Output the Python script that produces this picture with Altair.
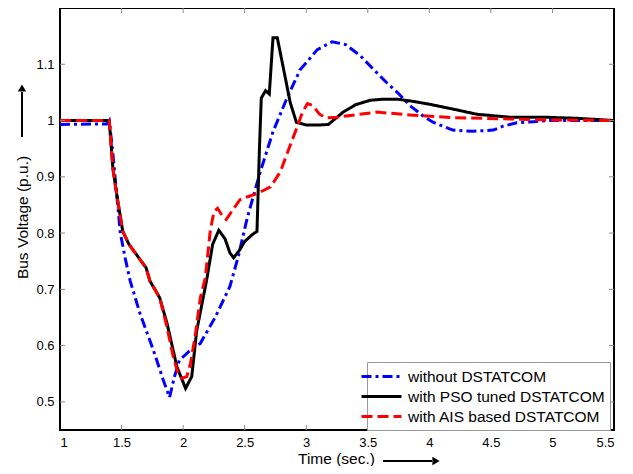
import altair as alt
import pandas as pd

series_names = ["without DSTATCOM", "with PSO tuned DSTATCOM", "with AIS based DSTATCOM"]
series_colors = ["#0000ff", "#000000", "#ff0000"]
series_dashes = [[10, 4, 3, 4], [1, 0], [11, 5]]

t_without = [1.0, 1.38, 1.40, 1.43, 1.46, 1.49, 1.53, 1.57, 1.65, 1.76, 1.84, 1.89, 1.93, 1.97,
             2.05, 2.14, 2.26, 2.38, 2.45, 2.52, 2.62, 2.73, 2.84, 2.95, 3.09, 3.21, 3.32, 3.44,
             3.55, 3.65, 3.75, 3.84, 3.95, 4.03, 4.19, 4.35, 4.52, 4.6, 4.71, 4.85, 4.98, 5.5]
v_without = [0.993, 0.994, 1.0, 0.94, 0.87, 0.80, 0.755, 0.715, 0.657, 0.591, 0.538, 0.508, 0.545,
             0.574, 0.59, 0.604, 0.65, 0.705, 0.76, 0.826, 0.904, 0.98, 1.038, 1.09, 1.126, 1.14,
             1.135, 1.115, 1.09, 1.068, 1.048, 1.027, 1.008, 0.997, 0.983, 0.981, 0.983, 0.99,
             0.996, 0.998, 1.0, 1.0]

t_pso = [1.0, 1.40, 1.43, 1.47, 1.51, 1.56, 1.62, 1.70, 1.73, 1.81, 1.87, 1.95, 2.02, 2.07, 2.11,
         2.19, 2.24, 2.29, 2.34, 2.38, 2.41, 2.46, 2.5, 2.56, 2.6, 2.62, 2.635, 2.67, 2.70, 2.73,
         2.765, 2.81, 2.87, 2.92, 3.0, 3.1, 3.18, 3.3, 3.4, 3.52, 3.63, 3.74, 3.87, 4.0, 4.2,
         4.39, 4.65, 4.92, 5.2, 5.5]
v_pso = [1.0, 1.0, 0.914, 0.856, 0.803, 0.78, 0.762, 0.738, 0.715, 0.685, 0.639, 0.562, 0.524,
         0.545, 0.626, 0.715, 0.78, 0.805, 0.79, 0.765, 0.756, 0.77, 0.785, 0.797, 0.803, 0.95,
         1.04, 1.053, 1.047, 1.147, 1.147, 1.098, 1.032, 0.997, 0.992, 0.992, 0.993, 1.015, 1.028,
         1.036, 1.038, 1.038, 1.034, 1.029, 1.02, 1.011, 1.006, 1.006, 1.004, 1.0]

t_ais = [1.0, 1.40, 1.43, 1.47, 1.51, 1.56, 1.62, 1.70, 1.73, 1.81, 1.87, 1.92, 1.96, 1.99, 2.03,
         2.06, 2.10, 2.14, 2.18, 2.22, 2.25, 2.28, 2.32, 2.35, 2.40, 2.46, 2.53, 2.6, 2.71, 2.79,
         2.87, 2.92, 2.97, 3.01, 3.05, 3.11, 3.16, 3.25, 3.4, 3.57, 3.84, 4.2, 4.6, 5.0, 5.5]
v_ais = [1.0, 1.0, 0.914, 0.856, 0.803, 0.78, 0.762, 0.738, 0.715, 0.685, 0.632, 0.58, 0.55, 0.542,
         0.545, 0.568, 0.62, 0.685, 0.72, 0.803, 0.838, 0.844, 0.83, 0.824, 0.84, 0.859, 0.865,
         0.87, 0.882, 0.909, 0.956, 0.985, 1.015, 1.03, 1.027, 1.011, 1.005, 1.006, 1.01, 1.015,
         1.01, 1.005, 1.003, 1.001, 1.0]

x_ticks = [1, 1.5, 2, 2.5, 3, 3.5, 4, 4.5, 5, 5.5]
y_ticks = [0.5, 0.6, 0.7, 0.8, 0.9, 1.0, 1.1]
x_inner_ticks = x_ticks[1:-1]

W, H = 554, 422
FONT = "Liberation Sans"

rows = []
for name, ts, vs in zip(series_names, [t_without, t_pso, t_ais], [v_without, v_pso, v_ais]):
    for i, (t, v) in enumerate(zip(ts, vs)):
        rows.append({"series": name, "t": t, "v": v, "idx": i})
df = pd.DataFrame(rows)

x_scale = alt.Scale(domain=[1, 5.5], nice=False, zero=False)
y_scale = alt.Scale(domain=[0.45, 1.2], nice=False, zero=False)

legend_cfg = dict(
    title=None, orient="none", legendX=307, legendY=354,
    symbolType="M-2.5,0H2.5", symbolSize=256, symbolStrokeWidth=3,
    labelFont=FONT, labelFontSize=15.5, labelColor="black", labelOffset=17, labelLimit=0,
    padding=5, rowPadding=2, fillColor="white", strokeColor="#999999",
)

lines = alt.Chart(df).mark_line(strokeWidth=3).encode(
    x=alt.X("t:Q", scale=x_scale,
            axis=alt.Axis(values=x_ticks, format="~g", title="Time (sec.)",
                          titleX=276, titleY=28, titleAlign="center", titleBaseline="middle")),
    y=alt.Y("v:Q", scale=y_scale,
            axis=alt.Axis(values=y_ticks, format="~g", title="Bus Voltage (p.u.)",
                          titleX=-38, titleY=209, titleAngle=270, titleAlign="center",
                          titleBaseline="middle")),
    color=alt.Color("series:N", sort=series_names,
                    scale=alt.Scale(domain=series_names, range=series_colors),
                    legend=alt.Legend(**legend_cfg)),
    strokeDash=alt.StrokeDash("series:N", sort=series_names,
                              scale=alt.Scale(domain=series_names, range=series_dashes),
                              legend=alt.Legend(**legend_cfg)),
    order="idx:Q",
)

xt = pd.DataFrame({"t": x_inner_ticks})
yt = pd.DataFrame({"v": y_ticks})
tick_color = "#8a8a8a"
xb = alt.Chart(xt).mark_rule(color=tick_color, strokeWidth=1).encode(
    x=alt.X("t:Q", scale=x_scale), y=alt.value(H), y2=alt.value(H - 5))
xtop = alt.Chart(xt).mark_rule(color=tick_color, strokeWidth=1).encode(
    x=alt.X("t:Q", scale=x_scale), y=alt.value(0), y2=alt.value(5))
yl = alt.Chart(yt).mark_rule(color=tick_color, strokeWidth=1).encode(
    y=alt.Y("v:Q", scale=y_scale), x=alt.value(0), x2=alt.value(5))
yr = alt.Chart(yt).mark_rule(color=tick_color, strokeWidth=1).encode(
    y=alt.Y("v:Q", scale=y_scale), x=alt.value(W), x2=alt.value(W - 5))

one = pd.DataFrame({"a": [0]})
y_arrow = alt.Chart(one).mark_rule(color="black", strokeWidth=2).encode(
    x=alt.value(-38), y=alt.value(129), y2=alt.value(84))
y_head = alt.Chart(one).mark_point(shape="triangle-up", filled=True, color="black",
                                   size=70, opacity=1).encode(x=alt.value(-38), y=alt.value(80))
x_arrow = alt.Chart(one).mark_rule(color="black", strokeWidth=2).encode(
    x=alt.value(323), x2=alt.value(372), y=alt.value(453))
x_head = alt.Chart(one).mark_point(shape="triangle-right", filled=True, color="black",
                                   size=70, opacity=1).encode(x=alt.value(376), y=alt.value(453))

chart = alt.layer(lines, xb, xtop, yl, yr, y_arrow, y_head, x_arrow, x_head).properties(
    width=W, height=H,
    autosize=alt.AutoSizeParams(type="none"),
    padding={"left": 52, "top": 0, "right": 10, "bottom": 36},
).configure_view(stroke="black", strokeWidth=2).configure_axis(
    domain=False, ticks=False, grid=False,
    labelFont=FONT, labelFontSize=13, labelColor="black", labelPadding=6,
    titleFont=FONT, titleFontSize=15.5, titleFontWeight="normal", titleColor="black",
)

chart.save("out.html", embed_options={"renderer": "svg", "actions": False})
